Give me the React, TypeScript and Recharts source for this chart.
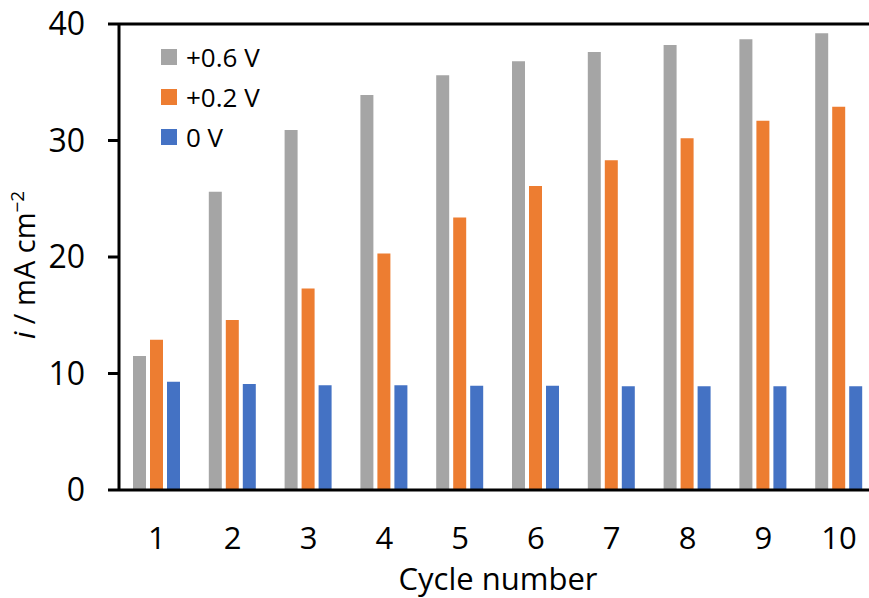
import React from 'react';
import { BarChart, Bar, XAxis, YAxis, ReferenceLine, Legend } from 'recharts';

const cycles = ['1', '2', '3', '4', '5', '6', '7', '8', '9', '10'];
const seriesNames = ['+0.6 V', '+0.2 V', '0 V'];
const v06 = [11.5, 25.6, 30.9, 33.9, 35.6, 36.8, 37.6, 38.2, 38.7, 39.2];
const v02 = [12.9, 14.6, 17.3, 20.3, 23.4, 26.1, 28.3, 30.2, 31.7, 32.9];
const v0 = [9.3, 9.1, 9.0, 9.0, 8.95, 8.95, 8.9, 8.9, 8.9, 8.9];
const yTicks = [0, 10, 20, 30, 40];
const colors = ['#A5A5A5', '#ED7D31', '#4472C4'];

const data = cycles.map((c, i) => ({ cycle: c, a: v06[i], b: v02[i], c: v0[i] }));

const FONT = '"Open Sans", "Noto Sans", sans-serif';

const LegendContent = () => (
  <div style={{ fontFamily: FONT, fontSize: 26, color: '#000' }}>
    {seriesNames.map((n, i) => (
      <div key={n} style={{ display: 'flex', alignItems: 'center', height: 40 }}>
        <div style={{ width: 16, height: 16, background: colors[i], marginRight: 9 }} />
        <span style={{ lineHeight: '40px' }}>{n}</span>
      </div>
    ))}
  </div>
);

const YLabel = () => (
  <text
    transform="translate(35,339) rotate(-90)"
    x={0}
    y={0}
    textAnchor="start"
    fontFamily={FONT}
    fontSize={29}
    fill="#000"
  >
    <tspan fontStyle="italic">i</tspan>
    <tspan> / mA cm</tspan>
    <tspan fontSize={19} dy={-11}>−2</tspan>
  </text>
);

export default function App() {
  return (
    <div style={{ position: 'absolute', left: 0, top: 0, width: 869, height: 598, overflow: 'hidden', background: '#fff' }}>
      <BarChart
        width={877}
        height={598}
        data={data}
        margin={{ top: 24, right: 0, bottom: 0, left: 0 }}
        barSize={13}
        barGap={4}
      >
        <XAxis
          dataKey="cycle"
          height={108}
          axisLine={{ stroke: '#000', strokeWidth: 3 }}
          tickLine={false}
          tickSize={0}
          tickMargin={37}
          tick={{ fill: '#000', fontSize: 31, fontFamily: FONT }}
          label={{ value: 'Cycle number', position: 'insideBottom', offset: 8, fill: '#000', fontSize: 31, fontFamily: FONT }}
        />
        <YAxis
          width={119}
          domain={[0, 40]}
          ticks={yTicks}
          interval={0}
          axisLine={{ stroke: '#000', strokeWidth: 3 }}
          tickLine={{ stroke: '#000', strokeWidth: 3 }}
          tickSize={11}
          tickMargin={23}
          tick={{ fill: '#000', fontSize: 32, fontFamily: FONT }}
          label={{ content: () => <YLabel /> }}
        />
        <ReferenceLine y={40} stroke="#000" strokeWidth={3} ifOverflow="visible" />
        <Legend
          layout="vertical"
          verticalAlign="middle"
          align="center"
          wrapperStyle={{ top: 37, left: 161, width: 'auto' }}
          content={() => <LegendContent />}
        />
        <Bar dataKey="a" name={seriesNames[0]} fill={colors[0]} isAnimationActive={false} />
        <Bar dataKey="b" name={seriesNames[1]} fill={colors[1]} isAnimationActive={false} />
        <Bar dataKey="c" name={seriesNames[2]} fill={colors[2]} isAnimationActive={false} />
      </BarChart>
    </div>
  );
}
